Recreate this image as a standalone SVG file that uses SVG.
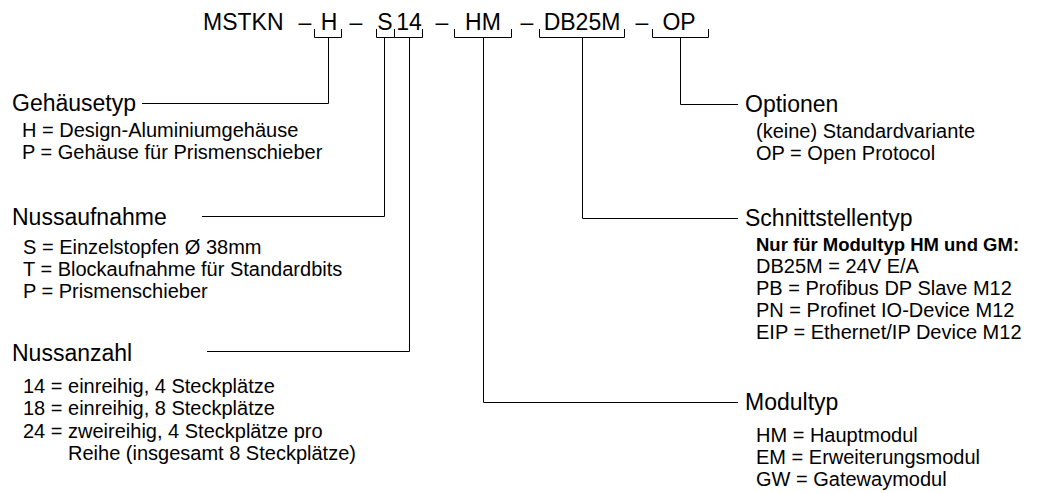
<svg xmlns="http://www.w3.org/2000/svg" width="1045" height="493" viewBox="0 0 1045 493">
<style>
text{font-family:"Liberation Sans",Arial,sans-serif;fill:#000}
.code{font-size:23px}
.title{font-size:23px}
.item{font-size:20px}
.bold{font-size:18.5px;font-weight:bold}
.ln{fill:none;stroke:#000;stroke-width:1}
</style>
<rect width="1045" height="493" fill="#fff"/>
<g id="code">
<text class="code" x="203" y="30">MSTKN</text>
<text class="code" x="305" y="30" text-anchor="middle">–</text>
<text class="code" x="329" y="30" text-anchor="middle">H</text>
<text class="code" x="356" y="30" text-anchor="middle">–</text>
<text class="code" x="385" y="30" text-anchor="middle">S</text>
<text class="code" x="409" y="30" text-anchor="middle">14</text>
<text class="code" x="442" y="30" text-anchor="middle">–</text>
<text class="code" x="483" y="30" text-anchor="middle">HM</text>
<text class="code" x="527" y="30" text-anchor="middle">–</text>
<text class="code" x="582" y="30" text-anchor="middle">DB25M</text>
<text class="code" x="642" y="30" text-anchor="middle">–</text>
<text class="code" x="679" y="30" text-anchor="middle">OP</text>
</g>
<g id="connectors">
<path class="ln" d="M314.5,29V37.5H341.5V29"/>
<path class="ln" d="M376.5,29V37.5H394.5V29"/>
<path class="ln" d="M394.5,37.5H422.5V29"/>
<path class="ln" d="M454.5,29V37.5H511.5V29"/>
<path class="ln" d="M539.5,29V37.5H624.5V29"/>
<path class="ln" d="M652.5,29V37.5H708.5V29"/>
<path class="ln" d="M328.5,37.5V103.5H142"/>
<path class="ln" d="M384.5,37.5V216.5H202"/>
<path class="ln" d="M409.5,37.5V351.5H207"/>
<path class="ln" d="M483.5,37.5V402.5H738"/>
<path class="ln" d="M582.5,37.5V218.5H738"/>
<path class="ln" d="M680.5,37.5V104.5H738"/>
</g>
<g id="gehaeusetyp">
<text class="title" x="12" y="111">Gehäusetyp</text>
<text class="item" x="22" y="137">H = Design-Aluminiumgehäuse</text>
<text class="item" x="22" y="159">P = Gehäuse für Prismenschieber</text>
</g>
<g id="nussaufnahme">
<text class="title" x="12" y="225">Nussaufnahme</text>
<text class="item" x="23" y="254">S = Einzelstopfen Ø 38mm</text>
<text class="item" x="23" y="276">T = Blockaufnahme für Standardbits</text>
<text class="item" x="23" y="298">P = Prismenschieber</text>
</g>
<g id="nussanzahl">
<text class="title" x="12" y="361">Nussanzahl</text>
<text class="item" x="23" y="393">14 = einreihig, 4 Steckplätze</text>
<text class="item" x="23" y="415">18 = einreihig, 8 Steckplätze</text>
<text class="item" x="23" y="438">24 = zweireihig, 4 Steckplätze pro</text>
<text class="item" x="68" y="460">Reihe (insgesamt 8 Steckplätze)</text>
</g>
<g id="optionen">
<text class="title" x="745" y="112">Optionen</text>
<text class="item" x="756" y="138">(keine) Standardvariante</text>
<text class="item" x="756" y="160">OP = Open Protocol</text>
</g>
<g id="schnittstellentyp">
<text class="title" x="745" y="226">Schnittstellentyp</text>
<text class="bold" x="756" y="251">Nur für Modultyp HM und GM:</text>
<text class="item" x="756" y="273">DB25M = 24V E/A</text>
<text class="item" x="756" y="295">PB = Profibus DP Slave M12</text>
<text class="item" x="756" y="317">PN = Profinet IO-Device M12</text>
<text class="item" x="756" y="339">EIP = Ethernet/IP Device M12</text>
</g>
<g id="modultyp">
<text class="title" x="745" y="410">Modultyp</text>
<text class="item" x="756" y="442">HM = Hauptmodul</text>
<text class="item" x="756" y="464">EM = Erweiterungsmodul</text>
<text class="item" x="756" y="486">GW = Gatewaymodul</text>
</g>
</svg>
